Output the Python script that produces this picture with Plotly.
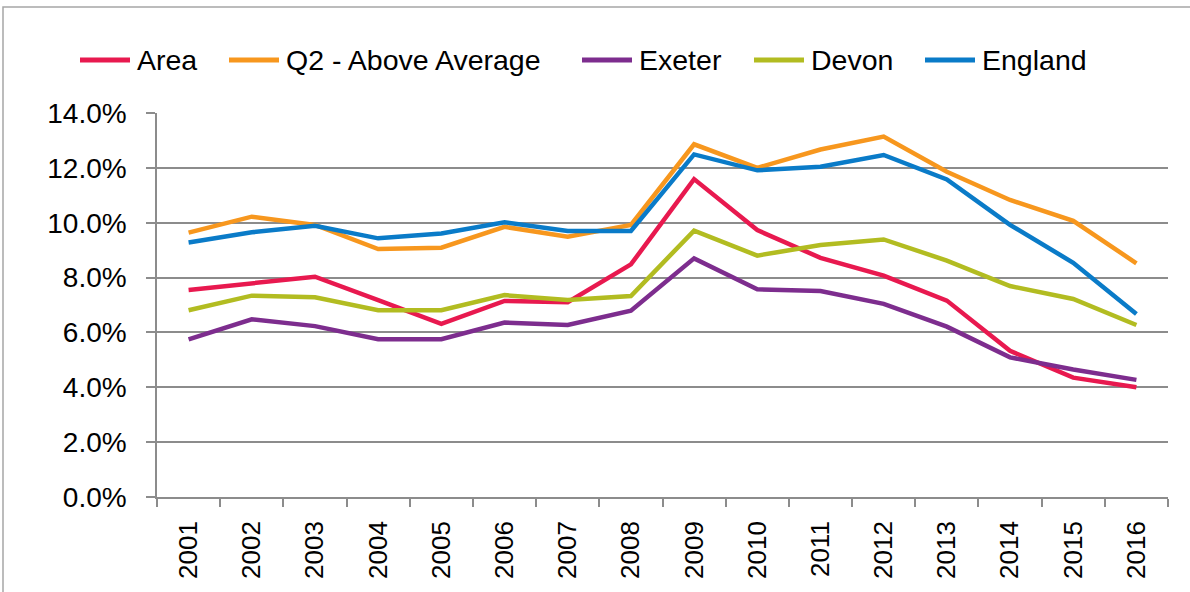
import plotly.graph_objects as go

years = [str(y) for y in range(2001, 2017)]
area = [7.55, 7.81, 8.03, 7.18, 6.31, 7.15, 7.10, 8.48, 11.59, 9.73, 8.72, 8.07, 7.16, 5.33, 4.35, 4.00]
q2_above = [9.64, 10.22, 9.92, 9.04, 9.09, 9.85, 9.49, 9.92, 12.86, 12.00, 12.67, 13.14, 11.86, 10.83, 10.07, 8.52]
exeter = [5.75, 6.48, 6.23, 5.75, 5.75, 6.36, 6.27, 6.79, 8.70, 7.57, 7.51, 7.04, 6.21, 5.09, 4.65, 4.27]
devon = [6.81, 7.34, 7.28, 6.81, 6.81, 7.36, 7.18, 7.33, 9.71, 8.80, 9.19, 9.39, 8.62, 7.69, 7.22, 6.27]
england = [9.28, 9.65, 9.89, 9.43, 9.61, 10.02, 9.70, 9.70, 12.49, 11.91, 12.04, 12.47, 11.58, 9.92, 8.54, 6.67]
y_ticks = [0, 2, 4, 6, 8, 10, 12, 14]

series = [
    ("Area", area, "#E8194F"),
    ("Q2 - Above Average", q2_above, "#F7971E"),
    ("Exeter", exeter, "#7D2D8E"),
    ("Devon", devon, "#B2BC21"),
    ("England", england, "#0A7BC8"),
]

W, H = 1190, 592
L, R, T, B = 157, 22, 113, 95
pw, ph = W - L - R, H - T - B


def px(x):
    return (x - L) / pw


def py(y):
    return (H - B - y) / ph


fig = go.Figure()
for name, vals, col in series:
    fig.add_trace(go.Scatter(x=years, y=vals, name=name, mode="lines",
                             line=dict(color=col, width=4.5)))

# legend drawn as line samples + text (page-pixel positions)
legend_x = [78, 227, 580, 752, 923]
legend_y = 60
shapes = [dict(type="rect", xref="paper", yref="paper",
               x0=px(3), x1=px(1200), y0=py(605), y1=py(7),
               line=dict(color="#A6A6A6", width=1.5), fillcolor="rgba(0,0,0,0)",
               layer="below")]
annotations = []
for (name, vals, col), lx in zip(series, legend_x):
    shapes.append(dict(type="line", xref="paper", yref="paper",
                       x0=px(lx + 2), x1=px(lx + 52), y0=py(legend_y), y1=py(legend_y),
                       line=dict(color=col, width=5)))
    annotations.append(dict(text=name, xref="paper", yref="paper",
                            x=px(lx + 57), y=py(legend_y), xanchor="left", yanchor="middle",
                            showarrow=False, font=dict(size=28.5, color="#000000")))

fig.update_layout(
    width=W, height=H,
    margin=dict(l=L, r=R, t=T, b=B),
    paper_bgcolor="white", plot_bgcolor="white",
    font=dict(family="Liberation Sans, Arial, sans-serif", size=27, color="#000000"),
    showlegend=False,
    xaxis=dict(type="category", range=[-0.5, 15.5], showgrid=False,
               showline=True, linecolor="#8C8C8C", linewidth=1.5,
               ticks="outside", tickson="boundaries", ticklen=8, tickcolor="#8C8C8C",
               tickwidth=1.5, tickangle=-90, tickfont=dict(size=26),
               ticklabelstandoff=12),
    yaxis=dict(range=[0, 14], tickvals=y_ticks,
               ticktext=[f"{v:.1f}%" for v in y_ticks],
               showgrid=True, gridcolor="#8C8C8C", gridwidth=1.5,
               showline=True, linecolor="#8C8C8C", linewidth=1.5,
               ticks="outside", ticklen=9, tickcolor="#8C8C8C", tickwidth=1.5,
               tickfont=dict(size=28), zeroline=False, ticklabelstandoff=14),
    shapes=shapes,
    annotations=annotations,
)

fig.write_html("out.html", config={"displayModeBar": False},
               post_script="document.body.style.margin='0';")
